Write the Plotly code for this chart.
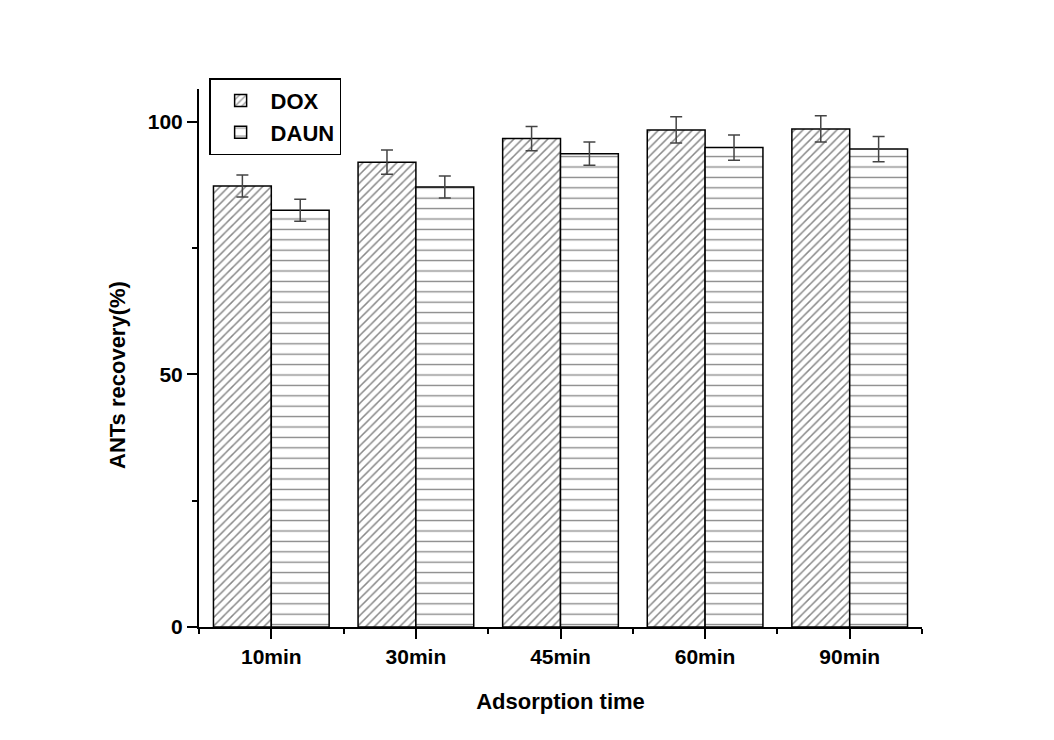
import plotly.graph_objects as go

categories = ["10min", "30min", "45min", "60min", "90min"]
dox = [87.3, 92.0, 96.7, 98.4, 98.6]
dox_err = [2.2, 2.4, 2.4, 2.6, 2.6]
daun = [82.5, 87.1, 93.7, 94.9, 94.6]
daun_err = [2.2, 2.2, 2.3, 2.5, 2.5]
y_ticks = [0, 50, 100]

xpos = list(range(len(categories)))
FONT = "Arial, Liberation Sans, sans-serif"

fig = go.Figure()
fig.add_trace(go.Bar(
    x=xpos, y=dox, name="DOX",
    marker=dict(color="white", line=dict(color="black", width=1.5),
                pattern=dict(shape="/", fgcolor="#111", bgcolor="white", size=6, solidity=0.25)),
    error_y=dict(type="data", array=dox_err, color="#444", thickness=1.5, width=6),
))
fig.add_trace(go.Bar(
    x=xpos, y=daun, name="DAUN",
    marker=dict(color="white", line=dict(color="black", width=1.5),
                pattern=dict(shape="-", fgcolor="#111", bgcolor="white", size=10.4, solidity=0.13)),
    error_y=dict(type="data", array=daun_err, color="#444", thickness=1.5, width=6),
))

fig.update_layout(
    width=1054, height=740,
    margin=dict(l=199, r=132, t=89, b=113),
    paper_bgcolor="white", plot_bgcolor="white",
    barmode="group", bargap=0.2, bargroupgap=0,
    font=dict(family=FONT, size=20, color="black", weight="bold"),
    legend=dict(x=0.014, y=1.02, xanchor="left", yanchor="top",
                bordercolor="black", borderwidth=1.5, bgcolor="white",
                font=dict(size=22, family=FONT, weight="bold"),
                itemwidth=50),
    showlegend=True,
)
fig.update_xaxes(
    range=[-0.5, len(categories) - 0.5],
    tickmode="array", tickvals=xpos, ticktext=categories,
    showline=True, linecolor="black", linewidth=2,
    ticks="outside", ticklen=10, tickwidth=2, tickcolor="black",
    minor=dict(ticks="outside", ticklen=5, tickwidth=2, tickcolor="black", tick0=-0.5, dtick=1),
    showgrid=False, zeroline=False,
    tickfont=dict(size=21, family=FONT, weight="bold"),
    title=dict(text="Adsorption time", font=dict(size=22, family=FONT, weight="bold"), standoff=26),
)
fig.update_yaxes(
    range=[0, 106.5],
    tickmode="array", tickvals=y_ticks,
    showline=True, linecolor="black", linewidth=2,
    ticks="outside", ticklen=10, tickwidth=2, tickcolor="black",
    minor=dict(ticks="outside", ticklen=5, tickwidth=2, tickcolor="black", tick0=0, dtick=25),
    showgrid=False, zeroline=False,
    tickfont=dict(size=21, family=FONT, weight="bold"),
)
fig.add_annotation(
    text="ANTs recovery(%)", textangle=-90, xref="paper", yref="paper",
    x=(117 - 199) / 723, y=(627 - 375) / 538, xanchor="center", yanchor="middle",
    showarrow=False, font=dict(size=22, family=FONT, weight="bold"),
)

fig.write_html("out.html")
